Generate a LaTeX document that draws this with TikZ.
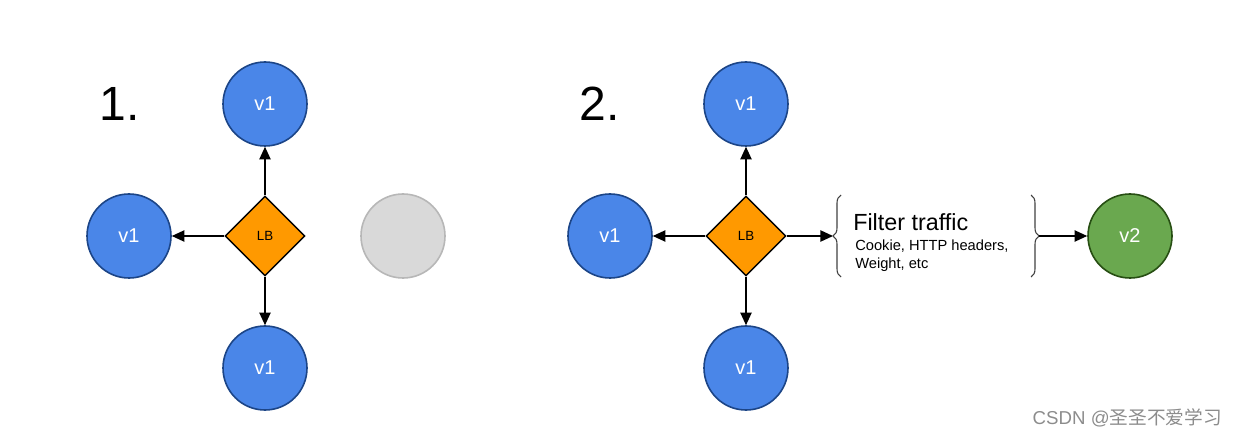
\documentclass[tikz,border=0pt]{standalone}
\usepackage{fontspec}
\setmainfont{Liberation Sans}
\newfontfamily\cjk{Noto Sans CJK SC}
\usetikzlibrary{shapes.geometric,arrows.meta,decorations.pathreplacing}
\definecolor{vblue}{HTML}{4A86E8}
\definecolor{vblueb}{HTML}{1C4587}
\definecolor{lborange}{HTML}{FF9900}
\definecolor{vgreen}{HTML}{6AA84F}
\definecolor{vgreenb}{HTML}{274E13}
\definecolor{ghost}{HTML}{D9D9D9}
\definecolor{ghostb}{HTML}{B7B7B7}
\tikzset{
  vnode/.style={circle,fill=vblue,draw=vblueb,line width=1.2pt,minimum size=63pt,inner sep=0pt,text=white,font=\fontsize{15}{17}\selectfont},
  v2node/.style={vnode,fill=vgreen,draw=vgreenb},
  ghostnode/.style={circle,fill=ghost,draw=ghostb,line width=1.2pt,minimum size=63pt,inner sep=0pt},
  lbnode/.style={diamond,fill=lborange,draw=black,line width=1.1pt,minimum size=60pt,inner sep=0pt,font=\fontsize{10}{11}\selectfont},
  conn/.style={-{Triangle[length=9.5pt,width=8.5pt]},line width=1.1pt},
  numlabel/.style={font=\fontsize{36}{40}\selectfont,anchor=center},
  bracestyle/.style={draw=black!75,line width=0.8pt,decorate,decoration={brace,amplitude=6pt}}
}
\begin{document}
\begin{tikzpicture}[x=0.75pt,y=-0.75pt]
\useasboundingbox (0,0) rectangle (1235,438);
% panel 1
\node[numlabel] (n1) at (120,104) {1.};
\node[lbnode] (lb1) at (265,236) {LB};
\node[vnode] (t1) at (265,104) {v1};
\node[vnode] (l1) at (129,236) {v1};
\node[vnode] (b1) at (265,368) {v1};
\node[ghostnode] (g1) at (403,236) {};
\draw[conn] (lb1.north) -- (t1.south);
\draw[conn] (lb1.west) -- (l1.east);
\draw[conn] (lb1.south) -- (b1.north);
% panel 2
\node[numlabel] (n2) at (600,104) {2.};
\node[lbnode] (lb2) at (746,236) {LB};
\node[vnode] (t2) at (746,104) {v1};
\node[vnode] (l2) at (610,236) {v1};
\node[vnode] (b2) at (746,368) {v1};
\node[v2node] (v2) at (1130,236) {v2};
\draw[conn] (lb2.north) -- (t2.south);
\draw[conn] (lb2.west) -- (l2.east);
\draw[conn] (lb2.south) -- (b2.north);
% braces
\coordinate (lbB) at (841,277);
\coordinate (ltB) at (841,195);
\coordinate (rtB) at (1031,195);
\coordinate (rbB) at (1031,277);
\coordinate (ltip) at (833,236);
\coordinate (rtip) at (1039,236);
\draw[bracestyle] (lbB) -- (ltB);
\draw[bracestyle] (rtB) -- (rbB);
\node[anchor=west,font=\fontsize{17.5}{20}\selectfont,inner sep=0pt] (ft) at (853,222) {Filter traffic};
\node[anchor=north west,align=left,font=\fontsize{11}{13.5}\selectfont,inner sep=0pt] (fs) at (855,240) {Cookie, HTTP headers,\\Weight, etc};
\draw[conn] (lb2.east) -- (ltip);
\draw[conn] (rtip) -- (v2.west);
% watermark
\node[anchor=east,text=black!45,font=\fontsize{14}{16}\selectfont,inner sep=0pt] (wm) at (1222,418) {CSDN @{\cjk 圣圣不爱学习}};
\end{tikzpicture}
\end{document}
